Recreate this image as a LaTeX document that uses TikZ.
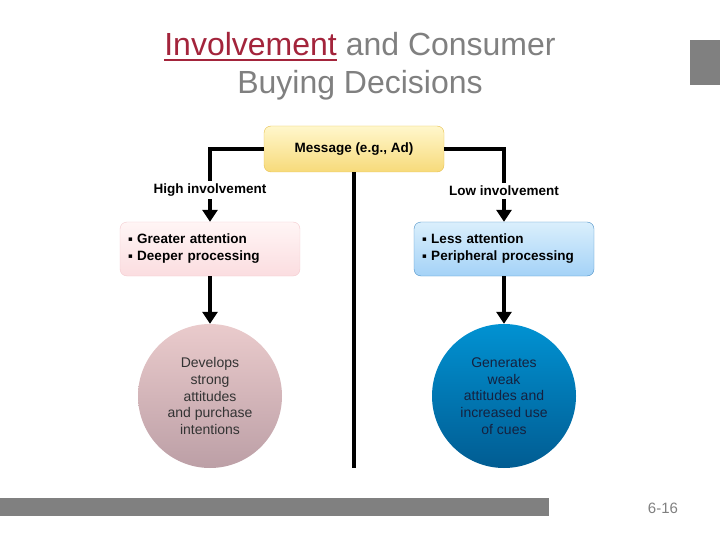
\documentclass[tikz,border=0pt]{standalone}
\usepackage{fontspec}
\setmainfont{Liberation Sans}
\newfontfamily\symfont{DejaVu Sans}
\usetikzlibrary{arrows.meta}
\definecolor{titlered}{HTML}{A3243B}
\definecolor{slidegray}{HTML}{808080}
\definecolor{msgtop}{HTML}{FFF7CC}
\definecolor{msgbot}{HTML}{F7DA7A}
\definecolor{msgline}{HTML}{E6C04E}
\definecolor{pinktop}{HTML}{FFF5F5}
\definecolor{pinkbot}{HTML}{FBDDE0}
\definecolor{pinkline}{HTML}{F3CACE}
\definecolor{bluetop}{HTML}{DAEFFC}
\definecolor{bluebot}{HTML}{A4D2F7}
\definecolor{blueline}{HTML}{4A8FC6}
\definecolor{rosetop}{HTML}{EACBCC}
\definecolor{rosebot}{HTML}{BC9FA6}
\definecolor{seatop}{HTML}{0192D2}
\definecolor{seabot}{HTML}{015C92}
\definecolor{navytext}{HTML}{15213F}
\newcommand{\bul}{\raisebox{2pt}{\symfont\fontsize{7}{7}\selectfont ▪}\ }
\newsavebox{\ulbox}
\newcommand{\thickul}[1]{\sbox{\ulbox}{#1}\rlap{\rule[-6pt]{\wd\ulbox}{2pt}}\usebox{\ulbox}}

\begin{document}
\begin{tikzpicture}[x=1pt,y=1pt]
\tikzstyle{every node}+=[inner sep=0pt]
\tikzstyle{link}=[line width=3.5pt,black]
\tikzstyle{tip}=[-{Triangle[width=15pt,length=12pt]}]
\tikzstyle{lbl}=[fill=white,inner sep=3pt,font=\fontsize{13.5}{16}\selectfont\bfseries]
\tikzstyle{msgbox}=[rounded corners=7pt,draw=msgline,top color=msgtop,bottom color=msgbot,minimum width=180pt,minimum height=46pt,font=\fontsize{13.5}{16}\selectfont\bfseries]
\tikzstyle{pinkbox}=[rounded corners=7pt,draw=pinkline,top color=pinktop,bottom color=pinkbot,minimum width=180pt,minimum height=54pt,text width=164pt,align=left,font=\fontsize{13.5}{17}\selectfont\bfseries]
\tikzstyle{bluebox}=[rounded corners=7pt,draw=blueline,top color=bluetop,bottom color=bluebot,minimum width=180pt,minimum height=54pt,text width=164pt,align=left,font=\fontsize{13.5}{17}\selectfont\bfseries]
\tikzstyle{ball}=[circle,minimum size=144pt,align=center,font=\fontsize{14}{16.8}\selectfont]
\useasboundingbox (0,0) rectangle (720,-540);
% title and slide furniture
\draw (360,-66) node (title) [align=center,text=slidegray,font=\fontsize{32}{38}\selectfont] {{\color{titlered}\thickul{Involvement}} and Consumer\\Buying Decisions};
\fill [slidegray] (690,-40) rectangle (720,-85);
\fill [slidegray] (0,-498) rectangle (549,-516);
\draw (663,-508) node (pagenum) [text=slidegray,font=\fontsize{15}{15}\selectfont] {6-16};
% boxes
\draw (354,-149) node (msg) [msgbox] {Message (e.g., Ad)};
\draw (210,-249) node (hibox) [pinkbox] {\bul Greater attention\\\bul Deeper processing};
\draw (504,-249) node (lobox) [bluebox] {\bul Less attention\\\bul Peripheral processing};
\draw (210,-396) node (hiball) [ball,top color=rosetop,bottom color=rosebot,text=black!80] {Develops\\strong\\attitudes\\and purchase\\intentions};
\draw (504,-396) node (loball) [ball,top color=seatop,bottom color=seabot,text=navytext] {Generates\\weak\\attitudes and\\increased use\\of cues};
\coordinate (stem) at (354,-468);
% connectors
\draw [link,tip] (msg.west) -| (hibox.north);
\draw [link,tip] (msg.east) -| (lobox.north);
\draw [link] (msg.south) -- (stem);
\draw [link,tip] (hibox.south) -- (hiball.north);
\draw [link,tip] (lobox.south) -- (loball.north);
\draw (210,-190) node (hilbl) [lbl] {High involvement};
\draw (504,-191) node (lolbl) [lbl] {Low involvement};
\end{tikzpicture}
\end{document}
